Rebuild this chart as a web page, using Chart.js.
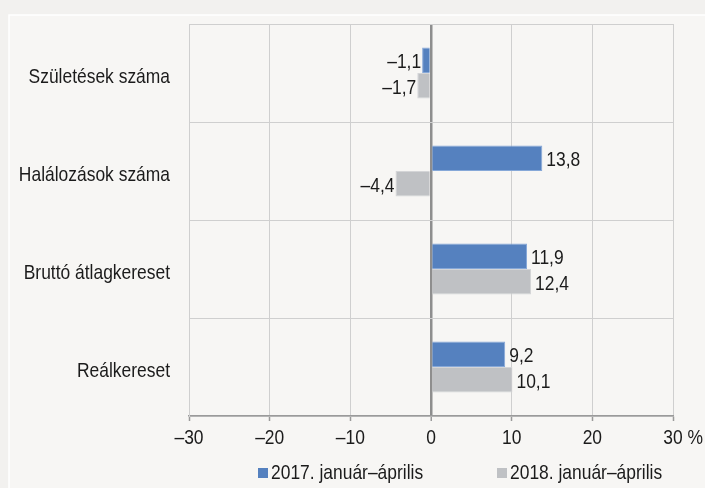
<!DOCTYPE html>
<html>
<head>
<meta charset="utf-8">
<script src="https://cdn.jsdelivr.net/npm/chart.js@4"></script>
<style>
  html, body { margin: 0; padding: 0; background: #f2f1ef; }
  #wrap { width: 705px; height: 488px; }
</style>
</head>
<body>
<div id="wrap"><canvas id="chart" width="705" height="488"></canvas></div>
<script>
// adatok
const categories = ['Születések száma', 'Halálozások száma', 'Bruttó átlagkereset', 'Reálkereset'];
const series2017 = [-1.1, 13.8, 11.9, 9.2];
const series2018 = [-1.7, -4.4, 12.4, 10.1];
const seriesNames = ['2017. január–április', '2018. január–április'];
const xTicks = [-30, -20, -10, 0, 10, 20, 30];

// nincs Arial Narrow, ezért a Liberation Sans-t vízszintesen összenyomjuk
const FONT = "'Liberation Sans', Arial, sans-serif";
const SQUEEZE = 0.83;
const TEXT = '#1b1b1b';

function fmt(v) {
  const s = Math.abs(v).toFixed(1).replace('.', ',');
  return v < 0 ? '\u2013' + s : s;
}

function tickText(v) {
  return v < 0 ? '\u2013' + Math.abs(v) : String(v);
}

// szűkített szöveg rajzolása (alapvonalra igazítva)
function narrowText(ctx, text, x, y, align, size) {
  ctx.save();
  ctx.font = (size || 21) + 'px ' + FONT;
  ctx.fillStyle = TEXT;
  ctx.textBaseline = 'alphabetic';
  ctx.textAlign = align;
  ctx.translate(x, y);
  ctx.scale(SQUEEZE, 1);
  ctx.fillText(text, 0, 0);
  const w = ctx.measureText(text).width * SQUEEZE;
  ctx.restore();
  return w;
}

// háttér panel
const panelPlugin = {
  id: 'panel',
  beforeDraw(chart) {
    const ctx = chart.ctx;
    ctx.save();
    ctx.fillStyle = '#f7f6f4';
    ctx.fillRect(9, 15, chart.width, chart.height);
    ctx.strokeStyle = '#ffffff';
    ctx.lineWidth = 1.5;
    ctx.beginPath();
    ctx.moveTo(9, chart.height);
    ctx.lineTo(9, 15);
    ctx.lineTo(chart.width, 15);
    ctx.stroke();
    ctx.restore();
  }
};

// értékcímkék a sávok végén
const labelPlugin = {
  id: 'barLabels',
  afterDatasetsDraw(chart) {
    const ctx = chart.ctx;
    chart.data.datasets.forEach((ds, i) => {
      chart.getDatasetMeta(i).data.forEach((el, j) => {
        const v = ds.data[j];
        if (v >= 0) narrowText(ctx, fmt(v), el.x + 4, el.y + 8, 'left');
        else narrowText(ctx, fmt(v), el.x - 1, el.y + 8, 'right');
      });
    });
  }
};

// tengelyfeliratok és jelmagyarázat
const axisTextPlugin = {
  id: 'axisText',
  afterDraw(chart) {
    const ctx = chart.ctx;
    const xs = chart.scales.x;
    const ys = chart.scales.y;

    categories.forEach((c, i) => {
      narrowText(ctx, c, 170, ys.getPixelForValue(i) + 9.5, 'right');
    });

    xTicks.forEach(v => {
      const px = xs.getPixelForValue(v);
      const w = narrowText(ctx, tickText(v), px, 444, 'center');
      if (v === 30) narrowText(ctx, ' %', px + w / 2, 444, 'left');
    });

    const items = [
      { x: 258, color: chart.data.datasets[0].backgroundColor, text: seriesNames[0] },
      { x: 497, color: chart.data.datasets[1].backgroundColor, text: seriesNames[1] }
    ];
    items.forEach(it => {
      ctx.fillStyle = it.color;
      ctx.fillRect(it.x, 468, 10, 10);
      narrowText(ctx, it.text, it.x + 13, 479, 'left');
    });
  }
};

new Chart(document.getElementById('chart'), {
  type: 'bar',
  data: {
    labels: categories,
    datasets: [
      {
        label: seriesNames[0],
        data: series2017,
        backgroundColor: '#5581bf',
        borderColor: '#86a8d8',
        borderWidth: 1,
        categoryPercentage: 0.52,
        barPercentage: 1
      },
      {
        label: seriesNames[1],
        data: series2018,
        backgroundColor: '#bfc1c4',
        borderColor: '#d4d5d7',
        borderWidth: 1,
        categoryPercentage: 0.52,
        barPercentage: 1
      }
    ]
  },
  options: {
    indexAxis: 'y',
    responsive: false,
    animation: false,
    layout: { padding: { top: 24, right: 32, left: 0, bottom: 0 } },
    plugins: {
      legend: { display: false },
      title: { display: false },
      tooltip: { enabled: false }
    },
    scales: {
      x: {
        min: -30,
        max: 30,
        afterBuildTicks(scale) {
          scale.ticks = xTicks.map(v => ({ value: v }));
        },
        afterFit(scale) { scale.height = 72; },
        grid: {
          color: c => (c.tick && c.tick.value === 0) ? '#8e8e8e' : '#cfcfcf',
          lineWidth: c => (c.tick && c.tick.value === 0) ? 2.5 : 1,
          drawTicks: true,
          tickLength: 5,
          tickColor: '#9a9a9a',
          tickWidth: 1.5
        },
        border: { display: true, color: '#9a9a9a', width: 1.5 },
        ticks: { display: false }
      },
      y: {
        offset: true,
        afterFit(scale) { scale.width = 189; },
        grid: {
          offset: true,
          color: '#cfcfcf',
          lineWidth: 1,
          drawTicks: false
        },
        border: { display: true, color: '#cfcfcf', width: 1 },
        ticks: { display: false }
      }
    }
  },
  plugins: [panelPlugin, labelPlugin, axisTextPlugin]
});
</script>
</body>
</html>
